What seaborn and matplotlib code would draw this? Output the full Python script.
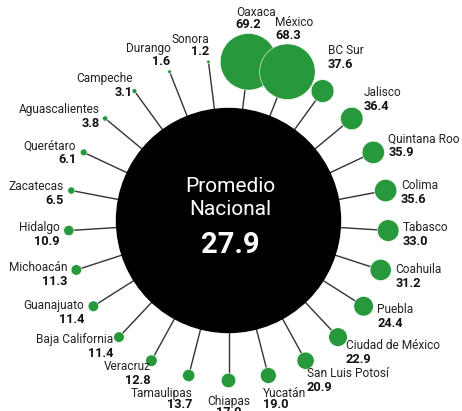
import numpy as np
import pandas as pd
import seaborn as sns
import matplotlib.pyplot as plt

estados = ["Oaxaca", "México", "BC Sur", "Jalisco", "Quintana Roo", "Colima",
           "Tabasco", "Coahuila", "Puebla", "Ciudad de México", "San Luis Potosí",
           "Yucatán", "Chiapas", "Tamaulipas", "Veracruz", "Baja California",
           "Guanajuato", "Michoacán", "Hidalgo", "Zacatecas", "Querétaro",
           "Aguascalientes", "Campeche", "Durango", "Sonora"]
valores = [69.2, 68.3, 37.6, 36.4, 35.9, 35.6, 33.0, 31.2, 24.4, 22.9, 20.9,
           19.0, 17.0, 13.7, 12.8, 11.4, 11.4, 11.3, 10.9, 6.5, 6.1, 3.8, 3.1,
           1.6, 1.2]
promedio = 27.9

sns.set_style("white")
plt.rcParams['font.family'] = ['Roboto', 'DejaVu Sans']

verde = "#27983b"
cx, cy = 228.5, 220.5     # centro del circulo (en pixeles)
r_anillo = 160
r_centro = 112

n = len(estados)
df = pd.DataFrame({"estado": estados, "valor": valores})
df["ang"] = np.deg2rad(360 / n * (np.arange(n) + 0.5))
df["x"] = cx + r_anillo * np.sin(df["ang"])
df["y"] = cy - r_anillo * np.cos(df["ang"])
v = df["valor"]
df["r"] = np.minimum(1.3 + 0.35 * v, 9.5 + 0.12 * (v - 22)) + 0.45 * np.clip(v - 40, 0, None)
df["s"] = (2 * df["r"] * 0.72) ** 2

fig = plt.figure(figsize=(4.62, 4.11), dpi=100)
ax = fig.add_axes([0, 0, 1, 1])

for _, row in df.iterrows():
    ax.plot([cx, row.x], [cy, row.y], color="#333333", lw=1.0, zorder=1)

ax.add_patch(plt.Circle((cx, cy), r_centro, color="black", zorder=2))

sns.scatterplot(data=df, x="x", y="y", size="s",
                sizes=(df["s"].min(), df["s"].max()),
                color=verde, edgecolor="white", linewidth=0.4,
                legend=False, ax=ax, zorder=3)

fs_nom, fs_val = 8.6, 9.2
for _, row in df.iterrows():
    s, c = np.sin(row.ang), np.cos(row.ang)
    if c > 0.85:
        # arriba de la burbuja
        ha = "left" if s > 0 else "right"
        tx = row.x - 0.45 * row.r if s > 0 else row.x + 0.45 * row.r
        yv = row.y - row.r - 5
        yn = yv - 12.5
    elif c < -0.9:
        # debajo de la burbuja
        if s > 0.1:
            ha, tx, gap = "left", row.x - 5, 13.5
        elif s < -0.1:
            ha, tx, gap = "right", row.x + 4, 15
        else:
            ha, tx, gap = "center", row.x, 17
        yn = row.y + row.r + gap
        yv = yn + 11.5
    else:
        ha = "left" if s > 0 else "right"
        f = np.clip((abs(s) - 0.45) / 0.4, 0, 1)
        tx = row.x + np.sign(s) * (row.r + 4) * f
        if c > 0:
            mid = row.y + 3 - 0.19 * c ** 2 * (row.r + 6) ** 2
        else:
            mid = row.y + 3 + 0.13 * c ** 2 * (row.r + 4) ** 2
        yn = mid - 3
        yv = mid + 11
    ax.text(tx, yn, row.estado, ha=ha, va="baseline", fontsize=fs_nom,
            color="#222222", zorder=4)
    ax.text(tx, yv, f"{row.valor:.1f}", ha=ha, va="baseline", fontsize=fs_val,
            fontweight="bold", color="#111111", zorder=4)

ax.text(cx + 1.5, cy - 28.5, "Promedio", ha="center", va="baseline",
        fontsize=15, color="white", zorder=5)
ax.text(cx + 1.5, cy - 5.5, "Nacional", ha="center", va="baseline",
        fontsize=15, color="white", zorder=5)
ax.text(cx + 1.5, cy + 32.5, f"{promedio:.1f}", ha="center", va="baseline",
        fontsize=21, fontweight="bold", color="white", zorder=5)

ax.set_xlim(0, 462)
ax.set_ylim(411, 0)
ax.set_aspect("equal")
ax.axis("off")

fig.savefig("out.png", dpi=100)
